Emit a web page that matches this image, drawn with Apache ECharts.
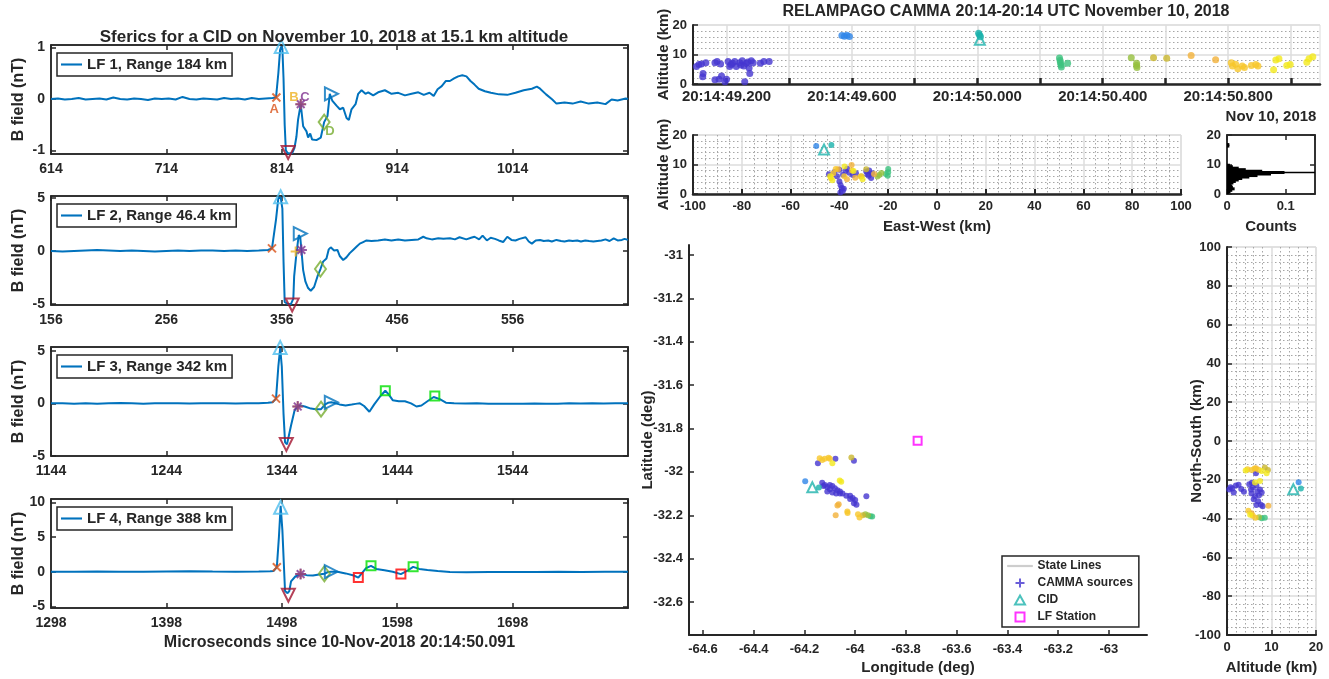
<!DOCTYPE html>
<html>
<head>
<meta charset="utf-8">
<script src="https://cdn.jsdelivr.net/npm/echarts@6.0.0/dist/echarts.min.js"></script>
<style>
html, body { margin: 0; padding: 0; background: #fff; }
#main { width: 1329px; height: 679px; }
</style>
</head>
<body>
<div id="main"></div>
<script>
var FONT = '"Liberation Sans", Arial, Helvetica, sans-serif';
var INK = '#262626';
var MAJOR = '#dcdcdc';
var MINOR = '#a6a6a6';

// ---------- left column: LF sferic waveforms (microseconds, nT) ----------
var lfNames = ['LF 1, Range 184 km', 'LF 2, Range 46.4 km', 'LF 3, Range 342 km', 'LF 4, Range 388 km'];
var lfXMin = [614, 156, 1144, 1298];
var lfXMax = [1114, 656, 1644, 1798];
var lfXStep = 100;
var lfYMin = [-1.07, -5.1, -5.0, -5.25];
var lfYMax = [1.05, 5.2, 5.35, 10.5];
var lfYTicks = [[-1, 0, 1], [-5, 0, 5], [-5, 0, 5], [-5, 0, 5, 10]];
var lfXLabel = 'Microseconds since 10-Nov-2018 20:14:50.091';
var lfTitle = 'Sferics for a CID on November 10, 2018 at 15.1 km altitude';

var lf1 = [[614,0.0],[620,0.01],[626,-0.01],[632,0.0],[638,0.02],[644,-0.01],[650,0.0],[656,0.01],[662,-0.01],[668,0.03],
  [674,0.0],[680,-0.01],[686,0.01],[692,0.0],[698,-0.02],[704,0.01],[710,0.0],[716,0.01],[722,-0.01],[728,0.04],[734,0.0],
  [740,-0.01],[746,0.01],[752,0.0],[758,-0.01],[764,0.02],[770,0.0],[776,0.01],[782,-0.01],[788,0.02],[794,0.0],[800,0.01],
  [806,0.02],[809,0.03],[811,0.5],[812.5,0.95],[813.5,1.02],[814.5,0.98],[815.5,0.4],[816.5,-0.5],[817.5,-1.0],[819,-1.05],
  [821,-1.06],[823,-1.05],[825,-0.95],[826.7,-0.73],[828.1,-0.4],[830.4,-0.1],[832.5,-0.53],[835.4,-0.63],[836.8,-0.75],
  [838.6,-0.67],[840.3,-0.79],[844,-0.8],[847.8,-0.75],[850.7,-0.45],[853.6,-0.33],[855.6,0.1],[857.7,-0.03],[861.4,-0.13],
  [864.3,-0.2],[867.2,-0.17],[870.1,-0.37],[872.1,-0.41],[874.4,-0.2],[877.9,-0.1],[880.2,0.1],[883.1,0.17],[886.5,0.1],
  [888.9,0.13],[893.2,0.07],[897.5,0.13],[903.3,0.17],[909.1,0.1],[914.9,0.12],[920.7,0.07],[926.5,0.1],[932.3,0.13],
  [937,0.08],[942,0.12],[945.6,0.06],[949,0.19],[952.6,0.25],[956.2,0.35],[959.7,0.35],[963.3,0.4],[966.8,0.44],[970.4,0.46],
  [974,0.44],[977.5,0.35],[981,0.28],[984.6,0.2],[990,0.15],[995.2,0.12],[1002.3,0.09],[1009.4,0.08],[1016.5,0.12],
  [1023.6,0.17],[1030.7,0.2],[1035,0.24],[1037.8,0.2],[1043,0.09],[1048.4,-0.01],[1052,-0.09],[1059,-0.07],[1066,-0.09],
  [1073,-0.05],[1080,-0.09],[1087.4,-0.07],[1094.5,-0.1],[1099.8,-0.01],[1105,-0.03],[1112,0.01],[1114,0.0]];

var lf2 = [[156,0.0],[166,-0.05],[176,0.0],[186,0.05],[196,0.1],[206,0.05],[216,0.0],[226,0.05],[236,0.0],[246,-0.05],
  [256,0.0],[266,0.05],[276,0.0],[286,0.05],[296,0.05],[306,0.0],[316,0.05],[326,0.0],[336,0.05],[344,0.1],[347.5,0.25],
  [351,3.0],[353,5.0],[355,5.1],[356.5,4.0],[357.5,-1.0],[358.5,-4.8],[361,-5.0],[364,-5.0],[366,-4.5],[366.7,-2.4],
  [368.7,-0.2],[370.7,1.5],[372,1.3],[373,0.1],[374.5,-1.8],[376.5,-2.9],[378.8,-3.5],[381.1,-3.75],[384,-3.4],[386.9,-2.4],
  [389.5,-1.7],[391.8,-1.0],[394.7,-0.7],[396.7,0.16],[398.4,0.35],[401.3,0.05],[404.2,0.1],[406.2,-0.47],[409.2,-0.85],
  [412,-0.6],[414.9,-0.2],[417.8,0.1],[420.7,0.4],[423.6,0.7],[426.5,0.85],[429.4,1.0],[433.7,0.95],[439.5,1.0],[445.3,1.1],
  [451,1.0],[456.9,1.1],[462.7,1.0],[468.5,1.05],[474.3,1.1],[478.6,1.35],[481.5,1.2],[486,1.1],[491.6,1.2],[496,1.15],
  [501.7,1.2],[506,1.1],[510,1.3],[515.9,1.1],[520,1.25],[523,1.35],[527,1.1],[530,1.45],[533.7,1.0],[537,1.25],[540.7,1.15],
  [544,1.0],[547.8,0.85],[551.4,1.35],[555,1.05],[558.5,1.0],[562,1.15],[567.3,1.3],[570,0.9],[572.7,0.7],[576,1.0],
  [579.8,1.05],[583,0.95],[586.9,1.0],[590,0.9],[594,1.05],[598,0.95],[601,0.9],[605,1.0],[608,0.95],[612,1.0],[615.2,0.9],
  [619,1.0],[622.3,0.95],[626,0.9],[629.4,0.95],[633,1.0],[636.5,1.1],[640,0.95],[643.6,1.2],[647,1.0],[650.7,1.05],
  [653,1.15],[656,1.05]];

var lf3 = [[1144,0.0],[1154,0.02],[1164,-0.03],[1174,0.0],[1184,-0.05],[1194,0.0],[1204,0.03],[1214,0.0],[1224,-0.03],
  [1234,0.0],[1244,0.02],[1254,0.0],[1264,-0.02],[1274,0.0],[1284,0.02],[1294,0.0],[1304,-0.02],[1314,0.0],[1324,0.02],
  [1332,0.05],[1336,0.1],[1339,0.45],[1341,3.5],[1342.6,5.25],[1344,3.5],[1345.5,-1.0],[1346.8,-3.7],[1348.5,-3.9],
  [1349.7,-3.8],[1352,-2.1],[1355,-0.7],[1357.8,-0.3],[1360.3,-0.2],[1363.9,-0.3],[1369.2,-0.5],[1373.4,-0.55],[1378,-0.55],
  [1381.6,-0.1],[1384,0.05],[1386.9,0.1],[1388.7,0.05],[1394,-0.1],[1399.3,-0.2],[1404.6,-0.12],[1408,-0.05],[1411.7,0.0],
  [1415.3,-0.25],[1419.9,-0.8],[1424.1,-0.1],[1429.5,0.7],[1433.7,1.2],[1436.6,0.85],[1440.1,0.3],[1445.4,0.2],[1450.7,0.2],
  [1456,0.0],[1460.7,-0.3],[1465,-0.2],[1470.2,0.2],[1475.6,0.6],[1477,0.65],[1480.9,0.4],[1486.2,0.06],[1493.3,0.0],
  [1503,-0.02],[1513,0.0],[1523,-0.03],[1533,-0.05],[1543,-0.03],[1553,-0.05],[1563,-0.02],[1573,-0.05],[1583,-0.03],
  [1593,0.0],[1603,-0.02],[1613,0.0],[1623,-0.02],[1633,0.0],[1644,0.0]];

var lf4 = [[1298,0.0],[1318,0.0],[1338,0.02],[1358,0.0],[1378,0.0],[1398,0.02],[1418,0.05],[1438,0.02],[1458,0.0],
  [1478,0.02],[1488,0.05],[1491,0.1],[1493.7,0.65],[1495.5,5.0],[1497,9.5],[1498.5,6.0],[1499.8,1.0],[1500.8,-2.8],
  [1503,-3.1],[1504.5,-2.8],[1506,-1.4],[1509.7,-0.7],[1514.3,-0.35],[1519.6,-0.5],[1525,-0.55],[1530.3,-0.4],[1534.9,-0.3],
  [1538,-0.05],[1540.9,0.0],[1546.2,0.0],[1553.3,-0.25],[1560.4,-0.55],[1564.3,-0.85],[1566,-0.6],[1571,0.5],[1575.3,0.85],
  [1579.9,0.4],[1587,0.2],[1594.1,0.0],[1601.2,-0.35],[1606.5,0.1],[1611.8,0.7],[1617.1,0.4],[1624.2,0.25],[1633.1,0.1],
  [1643.7,-0.05],[1658,-0.08],[1678,-0.05],[1698,-0.05],[1718,-0.05],[1738,-0.03],[1758,-0.05],[1778,-0.02],[1798,0.0]];

// picked features: [kind, microseconds, nT]
var lfMarks1 = [['A',809.3,0.03],['pk',813.5,1.02],['tr',819.5,-1.04],['B',830.4,-0.1],['C',830.4,-0.1],['D',850.7,-0.45],['E',857,0.1]];
var lfMarks2 = [['A',347.5,0.25],['pk',355,5.13],['tr',365,-5.1],['B',368,-0.05],['C',373,0.1],['D',389.5,-1.7],['E',372,1.65]];
var lfMarks3 = [['A',1339,0.45],['pk',1342.6,5.3],['tr',1347.9,-3.9],['B',1357.8,-0.3],['C',1357.8,-0.3],['D',1378,-0.55],
  ['E',1386.9,0.1],['G',1433.7,1.2],['G',1476.6,0.7]];
var lfMarks4 = [['A',1493.7,0.65],['pk',1497,9.3],['tr',1503.7,-3.4],['B',1514.3,-0.35],['C',1514.3,-0.35],['D',1534.9,-0.3],
  ['E',1540.9,0],['R',1564.3,-0.85],['G',1575.3,0.85],['R',1601.2,-0.35],['G',1611.8,0.7]];
var lfLetters = [['A',807.5,-0.21],['B',824.6,0.03],['C',834.1,0.03],['D',855.8,-0.63]];

// ---------- right column: CAMMA sources ----------
var rightTitle = 'RELAMPAGO CAMMA 20:14-20:14 UTC November 10, 2018';
var srcColors = ['#4536d0', '#2f86e8', '#19b2ab', '#3cc27e', '#95bf3d', '#c9b62e', '#f2b23a', '#f7c72a', '#f3e81c'];

var timeTicks = [49.2, 49.4, 49.6, 49.8, 50.0, 50.2, 50.4, 50.6, 50.8, 51.0];
var timeLabels = [49.2, 49.6, 50.0, 50.4, 50.8];
// [seconds after 20:14:00, altitude km, colour group]
var timeAlt = [[49.104,5.9,0],[49.112,6.6,0],[49.120,6.8,0],[49.134,7.2,0],[49.125,3.6,0],[49.124,2.5,0],[49.163,7.2,0],
  [49.170,7.6,0],[49.181,6.8,0],[49.163,1.4,0],[49.176,1.6,0],[49.184,2.7,0],[49.195,0.8,0],[49.200,1.6,0],[49.205,7.6,0],
  [49.210,5.9,0],[49.219,7.0,0],[49.226,7.6,0],[49.231,5.9,0],[49.242,7.2,0],[49.250,7.9,0],[49.255,6.1,0],[49.263,7.0,0],
  [49.272,5.4,0],[49.274,3.6,0],[49.279,7.9,0],[49.285,7.2,0],[49.258,0.8,0],[49.308,7.0,0],[49.319,7.6,0],[49.336,7.6,0],
  [49.214,6.6,0],[49.246,6.4,0],[49.268,7.5,0],
  [49.568,16.4,1],[49.576,16.2,1],[49.584,16.5,1],[49.592,16.1,1],
  [50.004,17.2,2],[50.007,16.6,2],[50.010,16.0,2],
  [50.262,8.8,3],[50.264,8.0,3],[50.265,7.2,3],[50.267,6.4,3],[50.268,5.8,3],[50.288,7.0,3],
  [50.491,8.9,4],[50.508,7.0,4],[50.508,6.3,4],[50.509,5.6,4],
  [50.562,8.9,5],[50.604,8.7,5],
  [50.682,9.7,6],[50.760,8.2,6],
  [50.810,7.2,7],[50.814,6.1,7],[50.824,6.7,7],[50.831,5.2,7],[50.845,6.1,7],[50.852,5.6,7],[50.874,6.3,7],[50.888,6.6,7],
  [50.895,6.1,7],
  [50.945,4.8,8],[50.952,8.1,8],[50.962,8.6,8],[50.987,6.3,8],[50.998,6.6,8],[51.051,7.4,8],[51.058,8.6,8],[51.070,9.2,8]];

// [east-west km, altitude km, colour group]
var ewAlt = [[-44.3,6.7,0],[-42,7.5,0],[-40,8.2,0],[-38.5,6.5,0],[-37.5,7.8,0],[-36,7.2,0],[-34.5,6.4,0],[-33.2,7.0,0],
  [-40,4.2,0],[-39.5,3.0,0],[-39,2.0,0],[-38.6,1.0,0],[-39.6,0.5,0],[-38.2,1.8,0],[-29,7.6,0],[-28,6.2,0],[-27,5.4,0],
  [-26.6,7.0,0],[-27.8,8.0,0],[-41,6.0,0],[-36.8,8.6,0],[-28.5,6.8,0],
  [-49.5,16.3,1],
  [-43.3,16.6,2],
  [-20,8.5,3],[-20,7.4,3],[-20.2,6.2,3],[-21,6.8,3],
  [-22.8,7.1,4],[-23.7,6.4,4],[-24.4,5.9,4],
  [-29,8.4,5],[-31,6.0,5],
  [-35,9.8,6],[-36.9,5.0,6],[-25.8,6.8,6],[-40.5,8.4,6],[-33.5,5.5,6],
  [-42.5,7.0,7],[-41.5,8.5,7],[-31.3,5.9,7],[-43.5,5.4,7],[-38,6.0,7],[-34.8,8.0,7],
  [-42.9,4.7,8],[-37.9,9.3,8],[-34.2,7.8,8],[-43.8,6.0,8],[-30.5,5.0,8]];

// [longitude, latitude, colour group]
var lonLat = [[-64.147,-31.96,0],[-64.078,-31.939,0],[-64.005,-31.949,0],
  [-64.13,-32.05,0],[-64.125,-32.065,0],[-64.12,-32.06,0],[-64.11,-32.07,0],[-64.10,-32.08,0],[-64.09,-32.065,0],
  [-64.08,-32.075,0],[-64.07,-32.085,0],[-64.06,-32.09,0],[-64.05,-32.1,0],[-64.11,-32.09,0],[-64.09,-32.095,0],
  [-64.075,-32.1,0],[-64.035,-32.11,0],[-64.02,-32.11,0],[-64.01,-32.12,0],[-64.0,-32.13,0],[-64.005,-32.145,0],
  [-63.995,-32.152,0],[-64.02,-32.125,0],[-63.956,-32.112,0],[-64.1,-32.06,0],[-64.06,-32.1,0],
  [-64.197,-32.043,1],
  [-64.143,-32.072,2],
  [-63.933,-32.206,3],[-63.94,-32.205,3],
  [-63.95,-32.2,4],[-63.96,-32.195,4],
  [-64.015,-31.934,5],[-63.97,-32.2,5],
  [-64.077,-32.2,6],[-64.065,-32.149,6],[-64.07,-32.155,6],
  [-64.14,-31.937,7],[-64.13,-31.945,7],[-64.12,-31.94,7],[-64.105,-31.935,7],[-64.1,-31.94,7],[-64.031,-32.183,7],
  [-64.03,-32.19,7],[-63.989,-32.195,7],[-63.983,-32.21,7],
  [-64.09,-31.96,8],[-64.061,-32.04,8],[-64.055,-32.045,8]];

// [altitude km, north-south km, colour group]
var altNs = [[0.5,-25,0],[1.2,-24.5,0],[2,-23,0],[2.6,-22.6,0],[3.2,-24.8,0],[3.8,-26.2,0],[1.5,-26.5,0],[0.8,-23.8,0],
  [5,-22.3,0],[5.8,-24,0],[6.6,-23,0],[7.4,-25,0],[5.5,-27,0],[6.3,-28.5,0],[7.2,-28,0],[6,-30,0],[7,-31,0],[6.6,-33,0],
  [7.6,-32.8,0],[8,-33.6,0],[6.5,-16.6,0],[5.6,-21.5,0],[7.8,-26.5,0],[6.8,-26,0],[5.4,-25,0],
  [16.1,-21.2,1],
  [16.6,-24.5,2],
  [8.5,-39.5,3],[7.8,-39.8,3],
  [7.2,-39.3,4],
  [8.5,-13.7,5],[9.2,-15,5],
  [9.3,-33.4,6],[6.5,-14,6],[5.5,-37.2,6],
  [4.6,-14.5,7],[5.5,-15,7],[6.2,-14.2,7],[7.1,-14.8,7],[4.8,-36,7],[5.8,-38.5,7],[6.4,-39.5,7],
  [8.9,-16.6,8],[7.8,-15.4,8],[7.4,-20.6,8],[6.3,-21.4,8],[4.2,-15.2,8],[5.2,-38,8]];

var cidTime = [[50.008, 15.0]];
var cidEw = [[-46.3, 15.1]];
var cidMap = [[-64.169, -32.071]];
var cidNs = [[14.9, -24.9]];
var lfStation = [[-63.754, -31.856]];

var histBins = ['0','0.5','1','1.5','2','2.5','3','3.5','4','4.5','5','5.5','6','6.5','7','7.5','8','8.5','9','9.5',
  '10','10.5','11','11.5','12','12.5','13','13.5','14','14.5','15','15.5','16','16.5','17','17.5','18','18.5','19','19.5'];
var histCounts = [0.003,0.006,0.009,0.013,0.01,0.009,0.007,0.011,0.015,0.02,0.026,0.038,0.052,0.075,0.098,0.06,0.032,0.02,0.01,0.005,
  0,0,0,0,0,0,0,0,0,0,0,0,0.004,0.004,0,0,0,0,0,0];
var histPeakAlt = [7.3];
var histTitle = 'Nov 10, 2018';

var lonTicks = [-64.6, -64.4, -64.2, -64, -63.8, -63.6, -63.4, -63.2, -63];
var latTicks = [-31, -31.2, -31.4, -31.6, -31.8, -32, -32.2, -32.4, -32.6];

// ---------- styles ----------
var X_PATH = 'path://M0,0L10,10M10,0L0,10';
var PLUS_PATH = 'path://M5,0L5,10M0,5L10,5';
var STAR_PATH = 'path://M5,0L5,10M0,5L10,5M1.5,1.5L8.5,8.5M8.5,1.5L1.5,8.5';
var LINE_ICON = 'path://M0,0L20,0L20,2L0,2Z';
var THIN_LINE_ICON = 'path://M0,0L25,0L25,1.2L0,1.2Z';
var TRI_ICON = 'path://M5,0L10,9L0,9Z';
var SQUARE_ICON = 'path://M0,0L10,0L10,10L0,10Z';
var markStyle = {
  A: {symbol: X_PATH, size: 8, color: '#d95319'},
  pk: {symbol: 'triangle', size: 13, color: '#4dbeee'},
  tr: {symbol: 'triangle', size: 13, color: '#a2142f', rotate: 180},
  B: {symbol: PLUS_PATH, size: 10, color: '#edb120'},
  C: {symbol: STAR_PATH, size: 11, color: '#7e2f8e'},
  D: {symbol: 'diamond', size: [11, 15], color: '#77ac30'},
  E: {symbol: 'triangle', size: 13, color: '#0072bd', rotate: -90},
  G: {symbol: 'rect', size: 9, color: '#00e000'},
  R: {symbol: 'rect', size: 9, color: '#ff0000'}
};
var letterColor = {A: '#d95319', B: '#edb120', C: '#7e2f8e', D: '#77ac30'};
var CID_COLOR = '#1fb3ad';

function merge(a, b) {
  var out = {};
  [a, b].forEach(function (src) {
    for (var k in src) {
      var v = src[k];
      if (v && typeof v === 'object' && !Array.isArray(v) && out[k] && typeof out[k] === 'object' && !Array.isArray(out[k])) {
        out[k] = merge(out[k], v);
      } else {
        out[k] = v;
      }
    }
  });
  return out;
}

function plain(v) { return String(v); }

function ax(opt, fs) {
  return merge({
    type: 'value',
    axisLine: {show: true, onZero: false, lineStyle: {color: INK, width: 1.5}},
    axisTick: {show: true, inside: true, length: 5, lineStyle: {color: INK, width: 1.5}},
    axisLabel: {color: INK, fontFamily: FONT, fontWeight: 'bold', fontSize: fs || 13, margin: 6, formatter: plain},
    splitLine: {show: false},
    nameLocation: 'middle',
    nameMoveOverlap: false,
    nameTextStyle: {color: INK, fontFamily: FONT, fontWeight: 'bold', fontSize: 15}
  }, opt);
}

var gridLines = {show: true, lineStyle: {color: MAJOR, width: 1.5}};
var dotted = {show: true, lineStyle: {color: MINOR, width: 1, type: [1.5, 2.5]}};

var grids = [], xAxes = [], yAxes = [], series = [], legends = [];
function addGrid(g) { g.outerBoundsMode = 'none'; grids.push(g); return grids.length - 1; }
function addX(a) { xAxes.push(a); return xAxes.length - 1; }
function addY(a) { yAxes.push(a); return yAxes.length - 1; }

function srcSeries(pts, xi, yi, size) {
  return {
    type: 'scatter', xAxisIndex: xi, yAxisIndex: yi, symbolSize: size, silent: true,
    data: pts.map(function (p) { return {value: [p[0], p[1]], itemStyle: {color: srcColors[p[2]]}}; })
  };
}
function cidSeries(pts, xi, yi, name) {
  return {
    type: 'scatter', name: name, xAxisIndex: xi, yAxisIndex: yi, symbol: 'triangle', symbolSize: 10, silent: true, z: 4,
    itemStyle: {color: 'rgba(0,0,0,0)', borderColor: CID_COLOR, borderWidth: 2}, data: pts
  };
}

// ---------- left panels ----------
var lfData = [lf1, lf2, lf3, lf4];
var lfMarks = [lfMarks1, lfMarks2, lfMarks3, lfMarks4];
var lfTops = [45, 196, 347, 499];

lfNames.forEach(function (nm, i) {
  var g = addGrid({left: 51, width: 577, top: lfTops[i], height: 109, show: true, borderColor: INK, borderWidth: 1.5});
  var xi = addX(ax({gridIndex: g, min: lfXMin[i], max: lfXMax[i], interval: lfXStep,
    axisLabel: {showMaxLabel: false, margin: 8},
    name: i === 3 ? lfXLabel : '', nameGap: 27, nameTextStyle: {fontSize: 16}}, 14));
  addX(ax({gridIndex: g, position: 'top', min: lfXMin[i], max: lfXMax[i], interval: lfXStep, axisLabel: {show: false}}));
  var yi = addY(ax({gridIndex: g, min: lfYMin[i], max: lfYMax[i],
    axisTick: {customValues: lfYTicks[i]}, axisLabel: {customValues: lfYTicks[i]},
    name: 'B field (nT)', nameGap: 24, nameTextStyle: {fontSize: 16}}, 14));
  addY(ax({gridIndex: g, position: 'right', min: lfYMin[i], max: lfYMax[i],
    axisTick: {customValues: lfYTicks[i]}, axisLabel: {show: false}}));

  series.push({
    type: 'line', name: nm, xAxisIndex: xi, yAxisIndex: yi, data: lfData[i], symbol: 'none', silent: true,
    lineStyle: {color: '#0072bd', width: 2}, itemStyle: {color: '#0072bd'}
  });
  series.push({
    type: 'scatter', xAxisIndex: xi, yAxisIndex: yi, clip: false, silent: true, z: 5,
    data: lfMarks[i].map(function (m) {
      var s = markStyle[m[0]];
      return {value: [m[1], m[2]], symbol: s.symbol, symbolSize: s.size, symbolRotate: s.rotate || 0,
        itemStyle: {color: 'rgba(0,0,0,0)', borderColor: s.color, borderWidth: 2}};
    })
  });
  if (i === 0) {
    series.push({
      type: 'scatter', xAxisIndex: xi, yAxisIndex: yi, symbolSize: 1, silent: true, z: 6,
      itemStyle: {color: 'rgba(0,0,0,0)'},
      data: lfLetters.map(function (l) {
        return {name: l[0], value: [l[1], l[2]],
          label: {show: true, position: 'inside', formatter: '{b}', color: letterColor[l[0]],
            fontFamily: FONT, fontWeight: 'bold', fontSize: 13}};
      })
    });
  }
  legends.push({
    left: 57, top: lfTops[i] + 8, data: [{name: nm, icon: LINE_ICON}], selectedMode: false,
    backgroundColor: '#fff', borderColor: INK, borderWidth: 1.5, borderRadius: 0, padding: [4, 5, 4, 4],
    itemWidth: 21, itemHeight: 10,
    textStyle: {color: INK, fontFamily: FONT, fontWeight: 'bold', fontSize: 15}
  });
});

// ---------- time / altitude ----------
var gT = addGrid({left: 693, top: 25, width: 627, height: 59, show: true, borderColor: MAJOR, borderWidth: 1});
var xT = addX(ax({gridIndex: gT, min: 49.093, max: 51.093,
  axisLine: {lineStyle: {width: 2.5}},
  axisTick: {customValues: timeTicks, length: 6, lineStyle: {width: 2.5}},
  axisLabel: {customValues: timeLabels, margin: 5, fontSize: 15, formatter: function (v) { return '20:14:' + Number(v).toFixed(3); }},
  splitLine: gridLines}));
var yT = addY(ax({gridIndex: gT, min: 0, max: 20, interval: 10, name: 'Altitude (km)', nameGap: 22,
  axisLine: {lineStyle: {width: 2}},
  splitLine: gridLines, minorTick: {show: false, splitNumber: 5}, minorSplitLine: dotted}));
series.push(srcSeries(timeAlt, xT, yT, 7));
series.push(cidSeries(cidTime, xT, yT));

// ---------- east-west / altitude ----------
var gE = addGrid({left: 693, top: 135, width: 488, height: 59, show: true, borderColor: MAJOR, borderWidth: 1});
var xE = addX(ax({gridIndex: gE, min: -100, max: 100, interval: 20, name: 'East-West (km)', nameGap: 25,
  axisLine: {lineStyle: {width: 2.5}}, axisTick: {lineStyle: {width: 2}},
  splitLine: gridLines, minorTick: {show: false, splitNumber: 4}, minorSplitLine: dotted}));
var yE = addY(ax({gridIndex: gE, min: 0, max: 20, interval: 10, name: 'Altitude (km)', nameGap: 22,
  axisLine: {lineStyle: {width: 2}},
  splitLine: gridLines, minorTick: {show: false, splitNumber: 5}, minorSplitLine: dotted}));
series.push(srcSeries(ewAlt, xE, yE, 6));
series.push(cidSeries(cidEw, xE, yE));

// ---------- altitude histogram ----------
var gH = addGrid({left: 1227, top: 135, width: 88, height: 59, show: true, borderColor: INK, borderWidth: 1.5});
var xH = addX(ax({gridIndex: gH, min: 0, max: 0.15, interval: 0.1, name: 'Counts', nameGap: 25,
  axisLabel: {showMaxLabel: false}}));
addX(ax({gridIndex: gH, position: 'top', min: 0, max: 0.15, interval: 0.1, axisLabel: {show: false}}));
var yH = addY(ax({gridIndex: gH, min: 0, max: 20, interval: 10}));
var yHc = addY({type: 'category', gridIndex: gH, data: histBins, show: false, boundaryGap: true, position: 'left'});
addY(ax({gridIndex: gH, position: 'right', min: 0, max: 20, interval: 10, axisLabel: {show: false}}));
series.push({type: 'bar', xAxisIndex: xH, yAxisIndex: yHc, data: histCounts, barWidth: 3, barGap: '-100%',
  silent: true, itemStyle: {color: '#000'}});
series.push({type: 'line', xAxisIndex: xH, yAxisIndex: yH, symbol: 'none', silent: true,
  data: [[0, histPeakAlt[0]], [0.15, histPeakAlt[0]]], lineStyle: {color: '#000', width: 1.5}});

// ---------- plan view ----------
var gM = addGrid({left: 689, top: 245, width: 458, height: 390});
var xM = addX(ax({gridIndex: gM, min: -64.655, max: -62.85, name: 'Longitude (deg)', nameGap: 25,
  axisLine: {lineStyle: {width: 2}},
  axisTick: {customValues: lonTicks}, axisLabel: {customValues: lonTicks, margin: 8}}));
var yM = addY(ax({gridIndex: gM, min: -32.752, max: -30.954, name: 'Latitude (deg)', nameGap: 34,
  axisLine: {lineStyle: {width: 2}},
  axisTick: {customValues: latTicks}, axisLabel: {customValues: latTicks}}));
series.push({type: 'line', name: 'State Lines', xAxisIndex: xM, yAxisIndex: yM, data: [], symbol: 'none',
  lineStyle: {color: '#cccccc', width: 2}, itemStyle: {color: '#cccccc'}});
series.push({type: 'scatter', name: 'CAMMA sources', xAxisIndex: xM, yAxisIndex: yM, data: [], symbol: PLUS_PATH,
  itemStyle: {color: 'rgba(0,0,0,0)', borderColor: srcColors[0], borderWidth: 2}});
series.push(srcSeries(lonLat, xM, yM, 6));
series.push(cidSeries(cidMap, xM, yM, 'CID'));
series.push({type: 'scatter', name: 'LF Station', xAxisIndex: xM, yAxisIndex: yM, symbol: 'rect', symbolSize: 8,
  silent: true, itemStyle: {color: 'rgba(0,0,0,0)', borderColor: '#ff00ff', borderWidth: 2}, data: lfStation});
legends.push({
  left: 1002, top: 556, orient: 'vertical', selectedMode: false,
  data: [
    {name: 'State Lines', icon: THIN_LINE_ICON, itemStyle: {color: '#cccccc', borderColor: '#cccccc', borderWidth: 1}},
    {name: 'CAMMA sources', icon: PLUS_PATH},
    {name: 'CID', icon: TRI_ICON},
    {name: 'LF Station', icon: SQUARE_ICON}
  ],
  backgroundColor: '#fff', borderColor: INK, borderWidth: 1.5, borderRadius: 0, padding: [4, 6, 4, 5],
  itemGap: 5, itemWidth: 25, itemHeight: 9,
  textStyle: {color: INK, fontFamily: FONT, fontWeight: 'bold', fontSize: 12}
});

// ---------- north-south / altitude ----------
var gN = addGrid({left: 1227, top: 247, width: 89, height: 388, show: true, borderColor: MAJOR, borderWidth: 1});
var xN = addX(ax({gridIndex: gN, min: 0, max: 20, interval: 10, name: 'Altitude (km)', nameGap: 25,
  axisLine: {lineStyle: {width: 2}},
  splitLine: gridLines, minorTick: {show: false, splitNumber: 5}, minorSplitLine: dotted}));
var yN = addY(ax({gridIndex: gN, min: -100, max: 100, interval: 20, name: 'North-South (km)', nameGap: 23,
  axisLine: {lineStyle: {width: 2}},
  splitLine: gridLines, minorTick: {show: false, splitNumber: 5}, minorSplitLine: dotted}));
series.push(srcSeries(altNs, xN, yN, 6));
series.push(cidSeries(cidNs, xN, yN));

function label(x, y, text, size) {
  return {type: 'text', x: x, y: y, silent: true, z: 100,
    style: {text: text, fill: INK, font: 'bold ' + size + 'px ' + FONT, textAlign: 'center',
      textVerticalAlign: 'middle', verticalAlign: 'middle'}};
}

var chart = echarts.init(document.getElementById('main'), null, {renderer: 'canvas'});
chart.setOption({
  animation: false,
  backgroundColor: '#fff',
  textStyle: {fontFamily: FONT},
  grid: grids,
  xAxis: xAxes,
  yAxis: yAxes,
  legend: legends,
  series: series,
  graphic: [
    label(334, 37, lfTitle, 17),
    label(1006, 12, rightTitle, 16),
    label(1271, 117, histTitle, 15)
  ]
});
</script>
</body>
</html>
